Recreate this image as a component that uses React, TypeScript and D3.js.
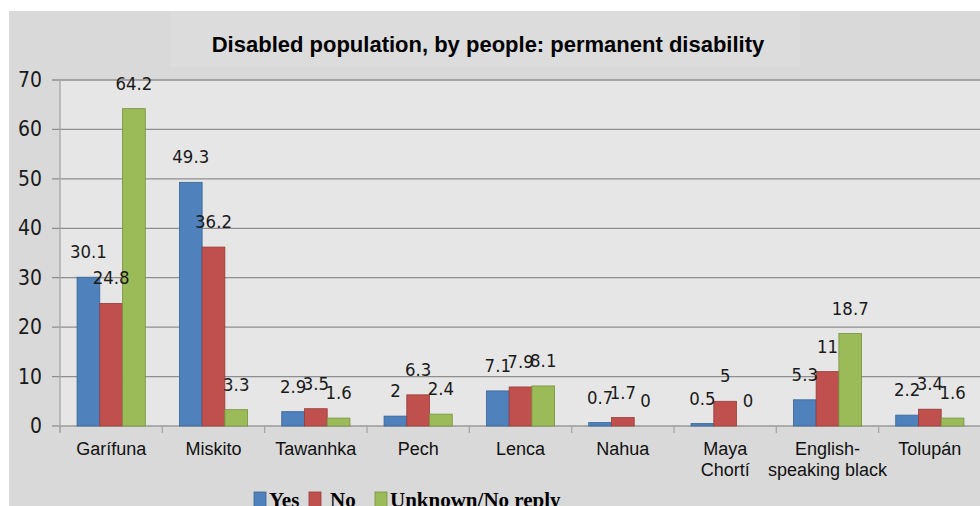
import React from "react";
import * as d3 from "d3";

const categories: string[][] = [
  ["Garífuna"],
  ["Miskito"],
  ["Tawanhka"],
  ["Pech"],
  ["Lenca"],
  ["Nahua"],
  ["Maya", "Chortí"],
  ["English-", "speaking black"],
  ["Tolupán"],
];
const seriesNames = ["Yes", "No", "Unknown/No reply"];
const yesValues = [30.1, 49.3, 2.9, 2, 7.1, 0.7, 0.5, 5.3, 2.2];
const noValues = [24.8, 36.2, 3.5, 6.3, 7.9, 1.7, 5, 11, 3.4];
const unknownValues = [64.2, 3.3, 1.6, 2.4, 8.1, 0, 0, 18.7, 1.6];
const yTicks = [0, 10, 20, 30, 40, 50, 60, 70];
const title = "Disabled population, by people: permanent disability";

const colors = ["#4f81bd", "#c0504d", "#9bbb59"];
const strokes = ["#3a6595", "#963c3a", "#76923f"];

const W = 980;
const H = 506;
const left = 60;
const right = 981;
const top = 80;
const bottom = 426;

const numFont = "'DejaVu Sans', sans-serif";
const sansFont = "'Liberation Sans', Arial, sans-serif";
const serifFont = "'Liberation Serif', 'Times New Roman', serif";

export default function App() {
  const values = [yesValues, noValues, unknownValues];
  const catKeys = categories.map((c) => c.join(" "));
  const x0 = d3.scaleBand<string>().domain(catKeys).range([left, right]).padding(0);
  const x1 = d3
    .scaleBand<string>()
    .domain(seriesNames)
    .range([0, x0.bandwidth()])
    .paddingInner(0)
    .paddingOuter(0.75);
  const y = d3.scaleLinear().domain([0, 70]).range([bottom, top]);

  const legendItems = [
    { sq: 254, tx: 269 },
    { sq: 309, tx: 330 },
    { sq: 375, tx: 390 },
  ];

  return (
    <svg
      width={W}
      height={H}
      style={{ position: "absolute", left: 0, top: 0, display: "block" }}
    >
      <rect x={0} y={0} width={W} height={H} fill="#ffffff" />
      <rect x={9} y={11} width={W - 9} height={H - 11} fill="#d9d9d9" />
      <rect x={170} y={11} width={630} height={56} fill="#dcdcdc" />
      <rect x={left} y={top} width={W - left} height={bottom - top} fill="#e6e6e6" />

      {/* gridlines */}
      {yTicks.map((t) => (
        <line
          key={"g" + t}
          x1={left - 8}
          x2={W}
          y1={y(t)}
          y2={y(t)}
          stroke={t === 0 ? "#9a9a9a" : "#8e8e8e"}
          strokeWidth={1.3}
        />
      ))}
      <line x1={left} x2={left} y1={top} y2={bottom + 6} stroke="#a6a6a6" strokeWidth={1.3} />
      {catKeys.map((k, i) => (
        <line
          key={"t" + i}
          x1={x0(k)!}
          x2={x0(k)!}
          y1={bottom}
          y2={bottom + 7}
          stroke="#a6a6a6"
          strokeWidth={1.3}
        />
      ))}

      {/* y labels */}
      {yTicks.map((t) => (
        <text
          key={"yl" + t}
          transform={`translate(42,${y(t) + 7}) scale(0.92,1)`}
          textAnchor="end"
          fontFamily={numFont}
          fontSize={20.5}
          fill="#1a1a1a"
        >
          {t}
        </text>
      ))}

      {/* bars */}
      {values.map((vals, s) =>
        vals.map((v, i) => {
          const bx = x0(catKeys[i])! + x1(seriesNames[s])!;
          const bw = x1.bandwidth();
          return (
            <rect
              key={"b" + s + "-" + i}
              x={bx}
              y={y(v)}
              width={bw}
              height={Math.max(0, y(0) - y(v))}
              fill={colors[s]}
              stroke={v > 0 ? strokes[s] : "none"}
              strokeWidth={0.8}
            />
          );
        })
      )}

      {/* value labels */}
      {values.map((vals, s) =>
        vals.map((v, i) => {
          const cx = x0(catKeys[i])! + x1(seriesNames[s])! + x1.bandwidth() / 2;
          return (
            <text
              key={"v" + s + "-" + i}
              transform={`translate(${cx},${y(v) - 19}) scale(0.92,1)`}
              textAnchor="middle"
              fontFamily={numFont}
              fontSize={18}
              fill="#1a1a1a"
            >
              {String(v)}
            </text>
          );
        })
      )}

      {/* category labels */}
      {categories.map((lines, i) => {
        const cx = x0(catKeys[i])! + x0.bandwidth() / 2;
        return (
          <text
            key={"c" + i}
            x={cx}
            y={455}
            textAnchor="middle"
            fontFamily={sansFont}
            fontSize={18}
            fill="#111"
          >
            {lines.map((ln, j) => (
              <tspan key={j} x={cx} dy={j === 0 ? 0 : 21}>
                {ln}
              </tspan>
            ))}
          </text>
        );
      })}

      {/* title */}
      <text
        x={488}
        y={52}
        textAnchor="middle"
        fontFamily={sansFont}
        fontWeight="bold"
        fontSize={22}
        fill="#000"
      >
        {title}
      </text>

      {/* legend */}
      {seriesNames.map((name, s) => (
        <g key={"l" + s}>
          <rect
            x={legendItems[s].sq}
            y={492}
            width={12}
            height={16}
            fill={colors[s]}
            stroke={strokes[s]}
            strokeWidth={0.8}
          />
          <text
            x={legendItems[s].tx}
            y={507}
            fontFamily={serifFont}
            fontWeight="bold"
            fontSize={21}
            fill="#000"
          >
            {name}
          </text>
        </g>
      ))}
    </svg>
  );
}
